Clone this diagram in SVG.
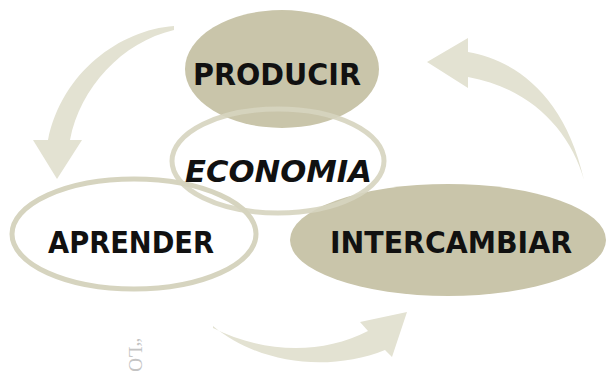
<svg xmlns="http://www.w3.org/2000/svg" width="607" height="373" viewBox="0 0 607 373">
<style>
.arrow{fill:#e3e2d2}
.filled{fill:#c9c5aa}
.ring{fill:none;stroke:#d6d4bf;stroke-width:5}
.lbl{font-family:"DejaVu Sans",sans-serif;font-weight:bold;fill:#111;font-size:31px}
</style>
<rect width="607" height="373" fill="#ffffff"/>
<g id="connectors">
<path class="arrow" d="M174,26 C120,30 62,72 48,140 L33,140 L57,179 L82,140 L70,140 C80,88 122,42 174,30 Z"/>
<path class="arrow" d="M427,62 L468,38 L468,52 C515,60 565,95 584,180 C570,130 530,88 468,77 L468,88 Z"/>
<path class="arrow" d="M213,326 C260,365 330,372 385,350 L392,357 L407,312 L360,322 L368,331 C320,356 260,352 213,328 Z"/>
</g>
<g id="producir">
<ellipse class="filled" cx="282" cy="69" rx="97" ry="59"/>
<text class="lbl" x="193" y="85" textLength="168" lengthAdjust="spacingAndGlyphs">PRODUCIR</text>
</g>
<g id="intercambiar">
<ellipse class="filled" cx="448" cy="240" rx="158" ry="56"/>
<text class="lbl" x="330" y="253" font-size="34" textLength="242" lengthAdjust="spacingAndGlyphs">INTERCAMBIAR</text>
</g>
<g id="aprender">
<ellipse class="ring" cx="134" cy="234" rx="122" ry="55"/>
<text class="lbl" x="48" y="253" font-size="34" textLength="166" lengthAdjust="spacingAndGlyphs">APRENDER</text>
</g>
<g id="economia">
<ellipse class="ring" cx="278" cy="161" rx="106" ry="52" opacity="0.9"/>
<text class="lbl" x="185" y="182" font-style="italic" textLength="187" lengthAdjust="spacingAndGlyphs">ECONOMIA</text>
</g>
<text x="0" y="0" transform="translate(129,338) rotate(90)" font-family="Liberation Serif,serif" font-size="19" fill="#c4c4c4">“LO</text>
</svg>
